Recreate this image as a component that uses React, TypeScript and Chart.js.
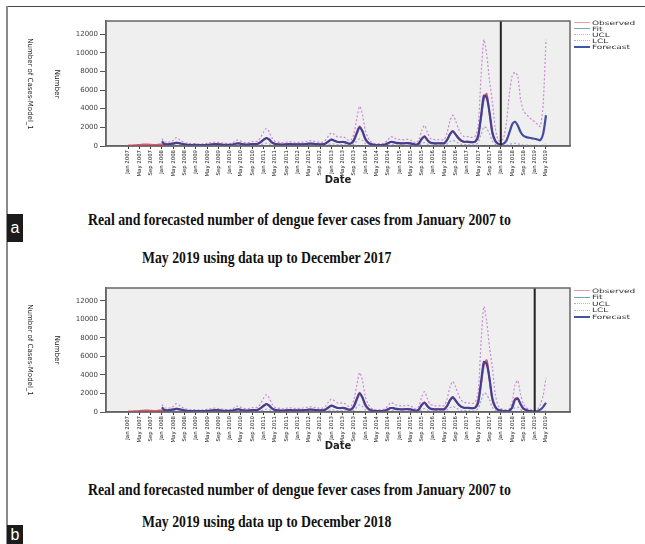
import React, { useEffect, useRef } from 'react';
import { Chart, registerables } from 'chart.js';

Chart.register(...registerables);
Chart.defaults.font.family = '"DejaVu Sans", sans-serif';

// ---------- data (month index 0 = Jan 2007) ----------
const tickLabels = [
  'Jan 2007', 'May 2007', 'Sep 2007', 'Jan 2008', 'May 2008', 'Sep 2008',
  'Jan 2009', 'May 2009', 'Sep 2009', 'Jan 2010', 'May 2010', 'Sep 2010',
  'Jan 2011', 'May 2011', 'Sep 2011', 'Jan 2012', 'May 2012', 'Sep 2012',
  'Jan 2013', 'May 2013', 'Sep 2013', 'Jan 2014', 'May 2014', 'Sep 2014',
  'Jan 2015', 'May 2015', 'Sep 2015', 'Jan 2016', 'May 2016', 'Sep 2016',
  'Jan 2017', 'May 2017', 'Sep 2017', 'Jan 2018', 'May 2018', 'Sep 2018',
  'Jan 2019', 'May 2019',
];
const tickStep = 4;
const yTicks = [0, 2000, 4000, 6000, 8000, 10000, 12000];

// observed cases, Jan 2007 - Dec 2018
const observed = [
  50, 60, 80, 100, 120, 150, 180, 170, 150, 130, 120, 160,
  180, 170, 190, 230, 290, 350, 300, 220, 160, 130, 110, 110,
  100, 90, 90, 100, 120, 150, 180, 200, 180, 150, 130, 120,
  120, 150, 250, 300, 220, 170, 150, 180, 220, 200, 250, 450,
  700, 880, 650, 350, 220, 180, 160, 150, 180, 200, 190, 170,
  180, 170, 200, 220, 260, 250, 220, 190, 170, 180, 300, 500,
  700, 550, 450, 420, 450, 380, 250, 300, 700, 1500, 2100, 1500,
  700, 350, 200, 120, 100, 100, 100, 150, 300, 450, 400, 320,
  300, 280, 300, 320, 280, 200, 120, 300, 800, 1050, 600, 350,
  300, 280, 300, 280, 300, 700, 1300, 1630, 1200, 800, 550, 450,
  450, 420, 400, 500, 1300, 3000, 5000, 5600, 3500, 1300, 500, 200,
  150, 100, 100, 150, 500, 1400, 1500, 800, 350, 200, 100, 80,
];

// model fit and limits, Jan 2008 - Dec 2018
const fitStart = 12;
const fitted = [
  500, 200, 190, 200, 260, 330, 320, 240, 170, 130, 110, 110,
  110, 100, 90, 95, 115, 145, 175, 195, 185, 155, 130, 120,
  120, 140, 230, 290, 230, 175, 150, 170, 210, 200, 240, 420,
  650, 850, 700, 380, 230, 180, 160, 150, 175, 200, 190, 175,
  180, 170, 190, 215, 255, 250, 225, 195, 175, 180, 280, 500,
  680, 580, 460, 420, 440, 390, 270, 280, 600, 1350, 2000, 1600,
  800, 380, 200, 130, 100, 100, 105, 150, 280, 430, 410, 330,
  300, 285, 295, 315, 285, 210, 130, 280, 750, 1000, 650, 370,
  310, 285, 295, 285, 300, 650, 1250, 1580, 1250, 850, 580, 460,
  460, 425, 405, 480, 1000, 3200, 5400, 5200, 3600, 1500, 600, 250,
  160, 110, 100, 140, 450, 1300, 1450, 850, 380, 210, 110, 90,
];
const upperLimit = [
  800, 450, 400, 450, 600, 900, 750, 500, 380, 300, 260, 250,
  250, 230, 220, 240, 280, 350, 400, 420, 380, 330, 290, 270,
  270, 320, 550, 650, 500, 400, 350, 400, 480, 450, 550, 950,
  1500, 1880, 1500, 850, 520, 420, 380, 350, 400, 450, 430, 400,
  400, 390, 430, 480, 560, 550, 500, 440, 400, 420, 650, 1100,
  1400, 1250, 1000, 950, 980, 870, 620, 650, 1350, 2900, 4250, 3400,
  1700, 850, 450, 300, 250, 250, 260, 350, 650, 1000, 920, 750,
  700, 660, 680, 720, 650, 480, 320, 650, 1650, 2200, 1450, 830,
  720, 660, 680, 660, 700, 1450, 2700, 3300, 2700, 1850, 1280, 1020,
  1020, 950, 920, 1080, 2200, 7500, 11400, 9800, 7000, 4800, 2000, 700,
  380, 280, 260, 340, 1050, 2900, 3400, 1900, 860, 480, 270, 220,
];
const lowerLimit = [
  250, 60, 50, 60, 80, 100, 95, 70, 45, 35, 25, 25,
  25, 22, 20, 22, 28, 38, 48, 55, 50, 40, 32, 28,
  28, 35, 65, 85, 65, 45, 38, 45, 58, 55, 65, 130,
  220, 300, 240, 120, 65, 48, 40, 38, 45, 55, 50, 45,
  48, 45, 50, 60, 72, 70, 62, 52, 45, 48, 85, 170,
  240, 200, 150, 135, 140, 125, 80, 85, 200, 500, 780, 600,
  280, 120, 55, 35, 25, 25, 28, 40, 85, 140, 135, 100,
  90, 85, 88, 95, 85, 60, 35, 85, 270, 370, 220, 110,
  95, 85, 88, 85, 90, 220, 460, 600, 460, 300, 190, 145,
  145, 130, 125, 150, 400, 1200, 2050, 1900, 1300, 500, 190, 70,
  40, 28, 25, 38, 140, 450, 520, 280, 110, 55, 28, 22,
];

// panel a: forecast Jan 2018 - May 2019
const forecastStartA = 132;
const forecastA = [150, 250, 600, 1400, 2300, 2600, 2200, 1500, 1100, 950, 880, 820, 780, 700, 620, 1300, 3300];
const forecastUclA = [500, 900, 2500, 5500, 7500, 7900, 7500, 5000, 3800, 3400, 3100, 2800, 2600, 2300, 2100, 4500, 11400];
const forecastLclA = [30, 40, 80, 160, 260, 290, 240, 160, 110, 90, 80, 70, 65, 55, 45, 90, 250];

// panel b: forecast Jan 2019 - May 2019
const forecastStartB = 144;
const forecastB = [60, 90, 250, 550, 1000];
const forecastUclB = [180, 300, 800, 1800, 3700];
const forecastLclB = [5, 10, 30, 60, 120];

const legendItems = ['Observed', 'Fit', 'UCL', 'LCL', 'Forecast'];

// ---------- helpers ----------
const pts = (values: number[], start: number) => values.map((v, k) => ({ x: start + k, y: v }));

const COLORS = {
  observed: 'rgba(236,70,96,0.95)',
  fit: '#5f9eaa',
  ucl: '#c98ad2',
  lcl: '#a4a4de',
  forecast: 'rgba(52,62,150,0.92)',
};

function buildDatasets(split: number, fc: number[], fu: number[], fl: number[]) {
  const histLen = split - fitStart;
  return [
    {
      label: 'Forecast',
      data: [...pts(fitted.slice(0, histLen), fitStart), ...pts(fc, split)],
      borderColor: COLORS.forecast, borderWidth: 2.2,
    },
    { label: 'Observed', data: pts(observed.slice(0, split), 0), borderColor: COLORS.observed, borderWidth: 1.8 },
    { label: 'Fit', data: pts(fitted.slice(0, histLen), fitStart), borderColor: COLORS.fit, borderWidth: 1.2 },
    {
      label: 'UCL',
      data: [...pts(upperLimit.slice(0, histLen), fitStart), ...pts(fu, split)],
      borderColor: COLORS.ucl, borderWidth: 1.2, borderDash: [2, 2],
    },
    {
      label: 'LCL',
      data: [...pts(lowerLimit.slice(0, histLen), fitStart), ...pts(fl, split)],
      borderColor: COLORS.lcl, borderWidth: 1.2, borderDash: [2, 2],
    },
  ];
}

const decorPlugin = {
  id: 'decor',
  beforeDraw(chart: any) {
    const { ctx, chartArea: a } = chart;
    ctx.save();
    ctx.fillStyle = '#efefef';
    ctx.fillRect(a.left, a.top, a.right - a.left, a.bottom - a.top);
    ctx.restore();
  },
  afterDatasetsDraw(chart: any, _args: any, opts: any) {
    const { ctx, chartArea: a } = chart;
    const x = chart.scales.x.getPixelForValue(opts.split);
    ctx.save();
    ctx.strokeStyle = '#222';
    ctx.lineWidth = 2;
    ctx.beginPath();
    ctx.moveTo(x, a.top);
    ctx.lineTo(x, a.bottom);
    ctx.stroke();
    ctx.strokeStyle = '#666';
    ctx.lineWidth = 1.5;
    ctx.strokeRect(a.left, a.top, a.right - a.left, a.bottom - a.top);
    ctx.restore();
  },
};

function PanelChart({ top, padTop, padBottom, split, fc, fu, fl }: any) {
  const ref = useRef<HTMLCanvasElement>(null);
  useEffect(() => {
    if (!ref.current) return;
    const chart = new Chart(ref.current, {
      type: 'line',
      data: { datasets: buildDatasets(split, fc, fu, fl) as any },
      plugins: [decorPlugin as any],
      options: {
        animation: false,
        responsive: false,
        devicePixelRatio: 1,
        layout: { padding: { top: padTop, left: 0, right: 75, bottom: padBottom } },
        elements: { point: { radius: 0 }, line: { tension: 0.25 } },
        plugins: {
          legend: { display: false },
          tooltip: { enabled: false },
          decor: { split },
        } as any,
        scales: {
          x: {
            type: 'linear',
            min: -7.8,
            max: 156.5,
            afterBuildTicks: (s: any) => {
              s.ticks = tickLabels.map((_, k) => ({ value: k * tickStep }));
            },
            afterFit: (s: any) => { s.height = 40; },
            ticks: {
              autoSkip: false,
              minRotation: 90,
              maxRotation: 90,
              padding: 1,
              color: '#222',
              font: { size: 5.4 },
              callback: (v: any) => tickLabels[Math.round(Number(v) / tickStep)] ?? '',
            },
            grid: { drawOnChartArea: false, tickLength: 3, color: '#333' },
            border: { color: '#666', width: 1.5 },
            title: {
              display: true,
              text: 'Date',
              color: '#222',
              padding: 0,
              font: { size: 10, weight: 'bold' },
            },
          },
          y: {
            min: 0,
            max: 13400,
            afterBuildTicks: (s: any) => {
              s.ticks = yTicks.map((v) => ({ value: v }));
            },
            afterFit: (s: any) => { s.width = 106; },
            ticks: {
              padding: 2,
              color: '#444',
              font: { size: 7 },
              callback: (v: any) => String(v),
            },
            grid: { drawOnChartArea: false, tickLength: 6, color: '#555' },
            border: { color: '#666', width: 1.5 },
          },
        } as any,
      },
    });
    return () => chart.destroy();
  }, []);
  return (
    <canvas
      ref={ref}
      width={645}
      height={200}
      style={{ position: 'absolute', left: 0, top, width: 645, height: 200 }}
    />
  );
}

function Legend({ top, gap }: { top: number; gap: number }) {
  const styles = [
    { c: '#f09aa4', w: 1.5, d: 'solid' },
    { c: '#6ea8b6', w: 1.2, d: 'solid' },
    { c: '#d8a0d8', w: 1.5, d: 'dotted' },
    { c: '#b0b0e2', w: 1.5, d: 'dotted' },
    { c: '#3c56aa', w: 2.2, d: 'solid' },
  ];
  return (
    <>
      {legendItems.map((name, k) => (
        <React.Fragment key={name}>
          <div
            style={{
              position: 'absolute', left: 574, top: top + k * gap, width: 16, height: 0,
              borderTop: `${styles[k].w}px ${styles[k].d} ${styles[k].c}`,
            }}
          />
          <div
            style={{
              position: 'absolute', left: 592, top: top + k * gap - 3.5, height: 7, lineHeight: '7px',
              fontFamily: '"DejaVu Sans", sans-serif', fontSize: 6, color: '#333', whiteSpace: 'nowrap',
              transform: 'scaleX(1.5)', transformOrigin: 'left center',
            }}
          >
            {name}
          </div>
        </React.Fragment>
      ))}
    </>
  );
}

function YTitles({ center }: { center: number }) {
  const base: React.CSSProperties = {
    position: 'absolute', whiteSpace: 'nowrap', fontFamily: '"DejaVu Sans", sans-serif',
    color: '#222', lineHeight: '8px', height: 8,
  };
  return (
    <>
      <div style={{ ...base, left: 57, top: center, fontSize: 7.2, transform: 'translate(-50%, -50%) rotate(90deg)' }}>
        Number
      </div>
      <div style={{ ...base, left: 30, top: center, fontSize: 7, transform: 'translate(-50%, -50%) rotate(90deg)' }}>
        Number of Cases-Model_1
      </div>
    </>
  );
}

function Caption({ left, top, text }: { left: number; top: number; text: string }) {
  return (
    <div
      style={{
        position: 'absolute', left, top: top - 10, height: 20, lineHeight: '20px', whiteSpace: 'nowrap',
        fontFamily: '"Liberation Serif", "Times New Roman", serif', fontWeight: 'bold', fontSize: 16,
        color: '#111', transform: 'scaleX(0.86)', transformOrigin: 'left center',
      }}
    >
      {text}
    </div>
  );
}

function Tag({ top, height, letter }: { top: number; height: number; letter: string }) {
  return (
    <div
      style={{
        position: 'absolute', left: 7, top, width: 16, height, background: '#1b1b1b', color: '#fff',
        fontFamily: '"Liberation Sans", Arial, sans-serif', fontSize: 16, lineHeight: `${height}px`,
        textAlign: 'center',
      }}
    >
      {letter}
    </div>
  );
}

export default function App() {
  return (
    <div style={{ position: 'absolute', left: 0, top: 0, width: 645, height: 544, background: '#fff', overflow: 'hidden' }}>
      <div style={{ position: 'absolute', left: 7, top: 6, width: 638, height: 1, background: '#444' }} />
      <div style={{ position: 'absolute', left: 6, top: 6, width: 2, height: 538, background: '#8a8a8a' }} />

      <PanelChart top={0} padTop={21} padBottom={14} split={forecastStartA} fc={forecastA} fu={forecastUclA} fl={forecastLclA} />
      <Legend top={22} gap={6} />
      <YTitles center={84} />
      <Caption left={88} top={220} text="Real and forecasted number of dengue fever cases from January 2007 to" />
      <Caption left={142} top={258} text="May 2019 using data up to December 2017" />
      <Tag top={214} height={28} letter="a" />

      <PanelChart top={265} padTop={23} padBottom={13} split={forecastStartB} fc={forecastB} fu={forecastUclB} fl={forecastLclB} />
      <Legend top={290} gap={6.5} />
      <YTitles center={350} />
      <Caption left={88} top={490} text="Real and forecasted number of dengue fever cases from January 2007 to" />
      <Caption left={142} top={522} text="May 2019 using data up to December 2018" />
      <Tag top={525} height={19} letter="b" />
    </div>
  );
}
